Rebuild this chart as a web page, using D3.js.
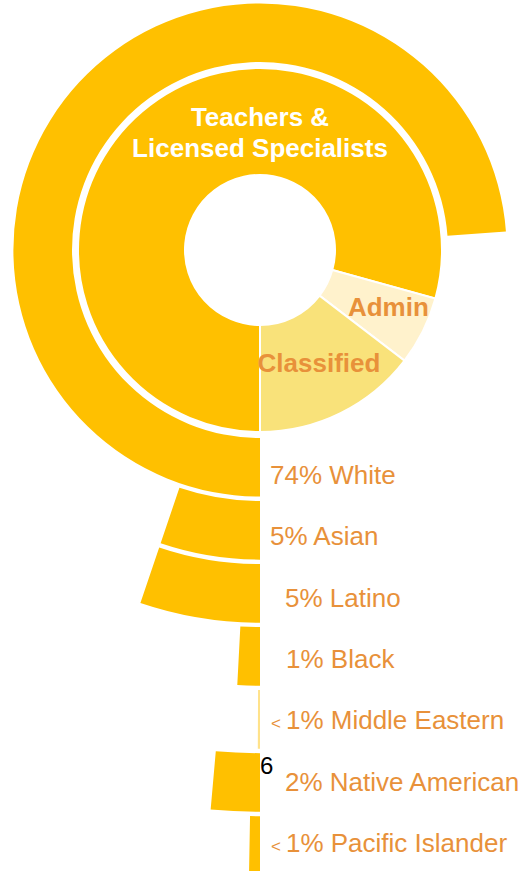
<!DOCTYPE html>
<html>
<head>
<meta charset="utf-8">
<script src="https://cdn.jsdelivr.net/npm/d3@7"></script>
<style>
  html, body { margin: 0; padding: 0; background: #fff; }
  svg { display: block; font-family: "Liberation Sans", Arial, sans-serif; }
</style>
</head>
<body>
<svg id="chart" width="525" height="871"></svg>
<script>
// ---- data ----
const staffCategories = ["Teachers & Licensed Specialists", "Admin", "Classified"];
const staffShares = [79.3, 6.1, 14.6];
const staffColors = ["#FFC000", "#FFF2CC", "#F9E27A"];

const ethnicities = ["White", "Asian", "Latino", "Black", "Middle Eastern", "Native American", "Pacific Islander"];
const ethnicShares = [73.8, 5.2, 5.2, 0.83, 0.07, 1.4, 0.28];
const ethnicPctLabels = ["74%", "5%", "5%", "1%", "1%", "2%", "1%"];
const ethnicLessThan = [false, false, false, false, true, false, true];
const strayLabel = "6";

// ---- layout ----
const svg = d3.select("#chart");
const cx = 260, cy = 250;
const orange = "#E8913A";
const gold = "#FFC000";

const g = svg.append("g").attr("transform", `translate(${cx},${cy})`);

// inner donut
const pie = d3.pie().sort(null).value(d => d.v)
  .startAngle(Math.PI).endAngle(3 * Math.PI);
const staffData = staffCategories.map((c, i) => ({ c, v: staffShares[i], col: staffColors[i] }));
const arcsInner = pie(staffData);
const innerArc = d3.arc().innerRadius(75).outerRadius(182);

g.selectAll("path.staff").data(arcsInner).join("path")
  .attr("class", "staff")
  .attr("d", innerArc)
  .attr("fill", d => d.data.col)
  .attr("stroke", "#fff")
  .attr("stroke-width", 2);

// radial bands for ethnicity
const band = d3.scaleBand().domain(ethnicities).range([188, 188 + 7 * 62.4]).paddingInner(0.07);
const angle = d3.scaleLinear().domain([0, 100]).range([0, 2 * Math.PI]);

const ethData = ethnicities.map((e, i) => ({ e, v: ethnicShares[i], lab: ethnicPctLabels[i], lt: ethnicLessThan[i] }));
const bandArc = d3.arc()
  .innerRadius(d => band(d.e))
  .outerRadius(d => band(d.e) + band.bandwidth())
  .startAngle(Math.PI)
  .endAngle(d => Math.PI + angle(d.v));

g.selectAll("path.eth").data(ethData).join("path")
  .attr("class", "eth")
  .attr("d", bandArc)
  .attr("fill", d => d.v < 0.1 ? "#FFE28A" : gold);

// inner labels
g.append("text").attr("x", 0).attr("y", -124)
  .attr("text-anchor", "middle").attr("fill", "#fff")
  .attr("font-size", 26).attr("font-weight", "bold")
  .text("Teachers &");
g.append("text").attr("x", 0).attr("y", -93)
  .attr("text-anchor", "middle").attr("fill", "#fff")
  .attr("font-size", 26).attr("font-weight", "bold")
  .text("Licensed Specialists");

const labelArc = d3.arc().innerRadius(140).outerRadius(140);
const innerLabelTweak = { "Admin": [3, 4], "Classified": [-3, -4] };
arcsInner.slice(1).forEach(a => {
  const [x, y] = labelArc.centroid(a);
  const t = innerLabelTweak[a.data.c];
  g.append("text")
    .attr("x", x + t[0]).attr("y", y + t[1])
    .attr("text-anchor", "middle").attr("fill", orange)
    .attr("font-size", 26).attr("font-weight", "bold")
    .text(a.data.c);
});

// ethnicity labels
const labelY = d3.scalePoint().domain(ethnicities).range([234, 234 + 6 * 61.3]);
const labelX = [10, 10, 25, 26, 27, 25, 27];
ethData.forEach((d, i) => {
  const t = g.append("text")
    .attr("x", labelX[i]).attr("y", labelY(d.e))
    .attr("fill", orange).attr("font-size", 26);
  if (d.lt) {
    t.append("tspan").attr("font-size", 17).attr("dx", -16).text("<");
    t.append("tspan").attr("dx", 5).text(`${d.lab} ${d.e}`);
  } else {
    t.text(`${d.lab} ${d.e}`);
  }
});

// stray label
g.append("text")
  .attr("x", 0).attr("y", band("Native American") + 21)
  .attr("fill", "#000").attr("font-size", 24)
  .text(strayLabel);
</script>
</body>
</html>
